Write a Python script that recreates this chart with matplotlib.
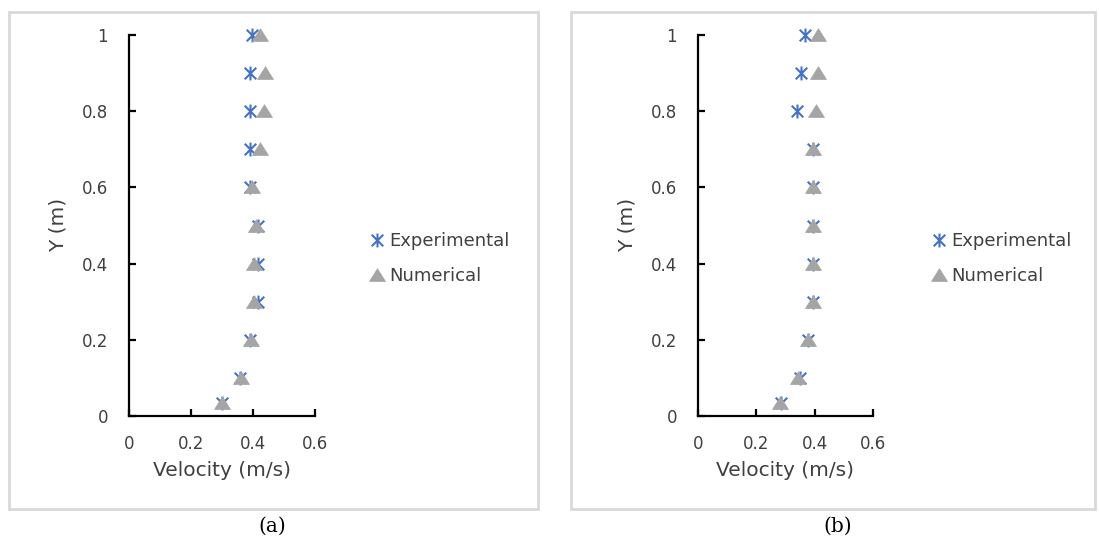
import matplotlib
matplotlib.use("Agg")
import matplotlib.pyplot as plt
from matplotlib.path import Path
from matplotlib.patches import Rectangle

# ---- data ----
y_pos = [1.0, 0.9, 0.8, 0.7, 0.6, 0.5, 0.4, 0.3, 0.2, 0.1, 0.035]
exp_a = [0.397, 0.390, 0.390, 0.390, 0.390, 0.416, 0.416, 0.416, 0.390, 0.358, 0.300]
num_a = [0.421, 0.439, 0.434, 0.421, 0.398, 0.411, 0.402, 0.402, 0.393, 0.360, 0.300]
exp_b = [0.366, 0.353, 0.339, 0.394, 0.394, 0.394, 0.394, 0.394, 0.377, 0.349, 0.284]
num_b = [0.411, 0.411, 0.404, 0.394, 0.394, 0.394, 0.394, 0.394, 0.377, 0.342, 0.281]
x_ticks = [0, 0.2, 0.4, 0.6]
y_ticks = [0, 0.2, 0.4, 0.6, 0.8, 1.0]
x_ticklabels = ["0", "0.2", "0.4", "0.6"]
y_ticklabels = ["0", "0.2", "0.4", "0.6", "0.8", "1"]
series_names = ["Experimental", "Numerical"]
captions = ["(a)", "(b)"]

plt.rcParams['font.family'] = ['DejaVu Sans']

W, H = 1099, 540
fig = plt.figure(figsize=(W / 100, H / 100), dpi=100)

BLUE = "#4472C4"
GREY = "#A5A5A5"
TXT = "#404040"

star = Path([(-1, -1), (1, 1), (-1, 1), (1, -1), (0, -1.2), (0, 1.2)],
            [Path.MOVETO, Path.LINETO, Path.MOVETO, Path.LINETO, Path.MOVETO, Path.LINETO])
tri = Path([(-1, -0.75), (1, -0.75), (0, 0.85), (-1, -0.75)],
           [Path.MOVETO, Path.LINETO, Path.LINETO, Path.CLOSEPOLY])

def px(x0, y0, w, h):
    return [x0 / W, 1 - (y0 + h) / H, w / W, h / H]

panels = [
    dict(box=(9, 12, 529, 497), ax=(129, 35, 186, 381), exp=exp_a, num=num_a,
         leg=(366, 232), cap=272, ylab=58),
    dict(box=(571, 12, 524, 497), ax=(698, 35, 175, 381), exp=exp_b, num=num_b,
         leg=(928, 232), cap=838, ylab=627),
]

for i, p in enumerate(panels):
    bx, by, bw, bh = p['box']
    fig.patches.append(Rectangle((bx / W, 1 - (by + bh) / H), bw / W, bh / H,
                                 transform=fig.transFigure, fill=False,
                                 edgecolor="#D9D9D9", linewidth=2))
    ax = fig.add_axes(px(*p['ax']))
    ax.plot(p['exp'], y_pos, linestyle='none', marker=star, markersize=10,
            markeredgecolor=BLUE, markerfacecolor=BLUE, markeredgewidth=1.5,
            label=series_names[0], clip_on=False)
    ax.plot(p['num'], y_pos, linestyle='none', marker=tri, markersize=11.5,
            markeredgecolor=GREY, markerfacecolor=GREY, markeredgewidth=0.5,
            label=series_names[1], clip_on=False)
    ax.set_xlim(0, 0.6)
    ax.set_ylim(0, 1.0)
    ax.set_xticks(x_ticks)
    ax.set_xticklabels(x_ticklabels)
    ax.set_yticks(y_ticks)
    ax.set_yticklabels(y_ticklabels)
    for s in ['top', 'right']:
        ax.spines[s].set_visible(False)
    for s in ['left', 'bottom']:
        ax.spines[s].set_linewidth(1.6)
        ax.spines[s].set_color('black')
    ax.tick_params(axis='both', direction='in', length=5, width=1.6,
                   labelsize=12, colors='black', labelcolor=TXT)
    ax.tick_params(axis='x', pad=14)
    ax.tick_params(axis='y', pad=15)
    ax.set_xlabel("Velocity (m/s)", fontsize=14.5, color=TXT)
    ax.set_ylabel("Y (m)", fontsize=14.5, color=TXT)
    ax.xaxis.label.set_va('center')
    ax.yaxis.label.set_va('center')
    cx = (p['ax'][0] + p['ax'][2] / 2) / W
    ax.xaxis.set_label_coords(cx, 1 - 471 / H, transform=fig.transFigure)
    ax.yaxis.set_label_coords(p['ylab'] / W, 1 - 225 / H, transform=fig.transFigure)
    lx, ly = p['leg']
    ax.legend(loc='upper left', bbox_to_anchor=(lx / W, 1 - ly / H),
              bbox_transform=fig.transFigure, frameon=False, fontsize=13,
              labelcolor=TXT, handletextpad=0.1, handlelength=1.2,
              labelspacing=0.95, borderpad=0, borderaxespad=0)
    fig.text(p['cap'] / W, 1 - 526 / H, captions[i], ha='center', va='center',
             fontsize=14.5, family=['DejaVu Serif'], color='black')

fig.savefig("out.png", dpi=100)
